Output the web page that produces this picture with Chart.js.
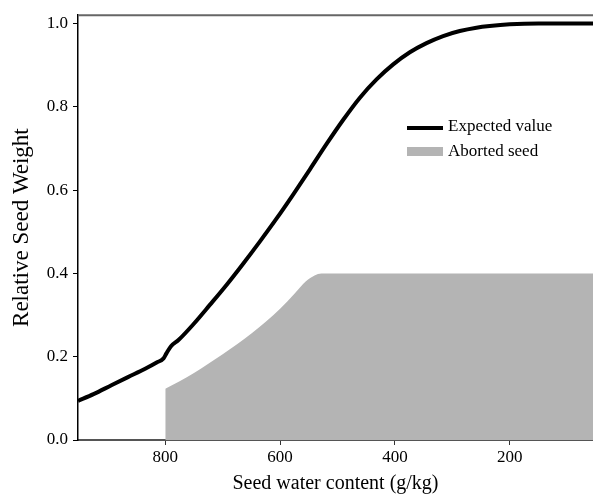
<!DOCTYPE html>
<html>
<head>
<meta charset="utf-8">
<script src="https://cdn.jsdelivr.net/npm/chart.js@4"></script>
<style>
  html, body { margin: 0; padding: 0; background: #fff; }
  #wrap { width: 593px; height: 497px; }
</style>
</head>
<body>
<div id="wrap"><canvas id="seedChart" width="593" height="497"></canvas></div>
<script>
// seed weight vs water content, x runs from wet (left) to dry (right)
const waterContent = [952, 925, 893, 865, 835, 815, 803, 798, 790, 777, 751, 722, 693, 664, 635, 606, 577,
  548, 519, 490, 461, 432, 403, 374, 345, 316, 287, 258, 235, 200, 150, 55];
const expectedValue = [0.094, 0.110, 0.132, 0.151, 0.171, 0.186, 0.196, 0.208, 0.225, 0.240, 0.278, 0.325,
  0.373, 0.424, 0.477, 0.532, 0.590, 0.650, 0.711, 0.769, 0.822, 0.866, 0.902, 0.931, 0.953, 0.970, 0.982,
  0.990, 0.994, 0.998, 1.0, 1.0];

const abortedX = [800, 775, 750, 725, 700, 675, 650, 625, 600, 575, 555, 540, 528, 55];
const abortedY = [0.123, 0.141, 0.161, 0.183, 0.206, 0.230, 0.256, 0.284, 0.315, 0.351, 0.381, 0.395, 0.400, 0.400];

const xTicks = [800, 600, 400, 200];
const yTicks = [0, 0.2, 0.4, 0.6, 0.8, 1.0];

const serif = 'Liberation Serif';
const lineColor = '#000000';
const fillColor = '#b4b4b4';

const toPoints = (xs, ys) => xs.map((x, i) => ({ x, y: ys[i] }));

// top frame line + legend box drawn inside the plot
const framePlugin = {
  id: 'frameAndLegend',
  afterDatasetsDraw(chart) {
    const { ctx, chartArea } = chart;
    ctx.save();
    ctx.strokeStyle = '#666';
    ctx.lineWidth = 2;
    ctx.beginPath();
    ctx.moveTo(chartArea.left, chartArea.top);
    ctx.lineTo(chartArea.right, chartArea.top);
    ctx.stroke();

    const lx = 407, lw = 36;
    ctx.strokeStyle = lineColor;
    ctx.lineWidth = 4;
    ctx.beginPath();
    ctx.moveTo(lx, 128);
    ctx.lineTo(lx + lw, 128);
    ctx.stroke();
    ctx.fillStyle = fillColor;
    ctx.fillRect(lx, 147, lw, 9);

    ctx.fillStyle = '#000';
    ctx.font = `17px "${serif}"`;
    ctx.textBaseline = 'middle';
    ctx.fillText('Expected value', 448, 127);
    ctx.fillText('Aborted seed', 448, 152);
    ctx.restore();
  }
};

new Chart(document.getElementById('seedChart'), {
  type: 'line',
  data: {
    datasets: [
      {
        label: 'Aborted seed',
        data: toPoints(abortedX, abortedY),
        borderWidth: 0,
        borderColor: fillColor,
        backgroundColor: fillColor,
        pointRadius: 0,
        fill: 'origin',
        cubicInterpolationMode: 'monotone',
        order: 2
      },
      {
        label: 'Expected value',
        data: toPoints(waterContent, expectedValue),
        borderWidth: 4,
        borderColor: lineColor,
        pointRadius: 0,
        fill: false,
        cubicInterpolationMode: 'monotone',
        order: 1
      }
    ]
  },
  options: {
    responsive: false,
    animation: false,
    layout: { padding: { top: 14, right: 0, left: 0, bottom: 0 } },
    plugins: {
      legend: { display: false },
      tooltip: { enabled: false }
    },
    scales: {
      x: {
        type: 'linear',
        reverse: true,
        min: 55,
        max: 952,
        afterBuildTicks: s => { s.ticks = xTicks.map(v => ({ value: v })); },
        afterFit: s => { s.height = 57; },
        grid: { drawOnChartArea: false, tickLength: 5, color: '#333', lineWidth: 1 },
        border: { color: '#555', width: 2 },
        ticks: { color: '#000', font: { family: serif, size: 17 }, padding: 2, maxRotation: 0 },
        title: {
          display: true,
          text: 'Seed water content (g/kg)',
          color: '#000',
          font: { family: serif, size: 20 },
          padding: { top: 0, bottom: 1 }
        }
      },
      y: {
        min: 0,
        max: 1.02,
        afterBuildTicks: s => { s.ticks = yTicks.map(v => ({ value: v })); },
        afterFit: s => { s.width = 78; },
        grid: { drawOnChartArea: false, tickLength: 5, color: '#000', lineWidth: 1 },
        border: { color: '#000', width: 1.5 },
        ticks: {
          color: '#000',
          font: { family: serif, size: 17 },
          padding: 5,
          callback: v => v.toFixed(1)
        },
        title: {
          display: true,
          text: 'Relative Seed Weight',
          color: '#000',
          font: { family: serif, size: 23 },
          padding: { top: 8, bottom: 0 }
        }
      }
    }
  },
  plugins: [framePlugin]
});
</script>
</body>
</html>
